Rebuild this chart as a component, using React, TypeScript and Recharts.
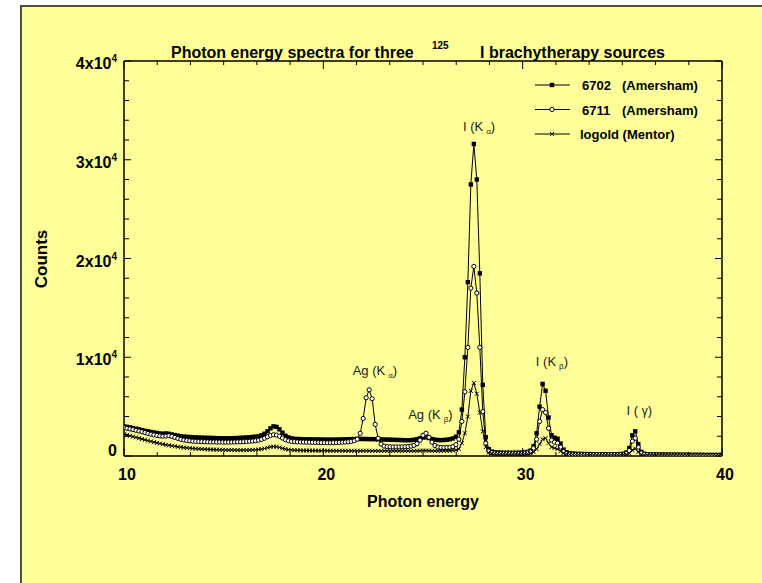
import React from 'react';
import { LineChart, Line, XAxis, YAxis, Legend, ReferenceDot } from 'recharts';

// detector channel energies (keV)
const energy = [
  10, 10.15, 10.3, 10.45, 10.6, 10.75, 10.9, 11.05, 11.2, 11.35, 11.5, 11.65, 11.8, 11.95, 12.1, 12.25, 12.4, 12.55, 12.7, 12.85,
  13, 13.15, 13.3, 13.45, 13.6, 13.75, 13.9, 14.05, 14.2, 14.35, 14.5, 14.65, 14.8, 14.95, 15.1, 15.25, 15.4, 15.55, 15.7, 15.85,
  16, 16.15, 16.3, 16.45, 16.6, 16.75, 16.9, 17.05, 17.2, 17.35, 17.5, 17.65, 17.8, 17.95, 18.1, 18.25, 18.4, 18.55, 18.7, 18.85,
  19, 19.15, 19.3, 19.45, 19.6, 19.75, 19.9, 20.05, 20.2, 20.35, 20.5, 20.65, 20.8, 20.95, 21.1, 21.25, 21.4, 21.55, 21.7, 21.85,
  22, 22.15, 22.3, 22.45, 22.6, 22.75, 22.9, 23.05, 23.2, 23.35, 23.5, 23.65, 23.8, 23.95, 24.1, 24.25, 24.4, 24.55, 24.7, 24.85,
  25, 25.15, 25.3, 25.45, 25.6, 25.75, 25.9, 26.05, 26.2, 26.35, 26.5, 26.65, 26.8, 26.95, 27.1, 27.25, 27.4, 27.55, 27.7, 27.85,
  28, 28.15, 28.3, 28.45, 28.6, 28.75, 28.9, 29.05, 29.2, 29.35, 29.5, 29.65, 29.8, 29.95, 30.1, 30.25, 30.4, 30.55, 30.7, 30.85,
  31, 31.15, 31.3, 31.45, 31.6, 31.75, 31.9, 32.05, 32.2, 32.35, 32.5, 32.65, 32.8, 32.95, 33.1, 33.25, 33.4, 33.55, 33.7, 33.85,
  34, 34.15, 34.3, 34.45, 34.6, 34.75, 34.9, 35.05, 35.2, 35.35, 35.5, 35.65, 35.8, 35.95, 36.1, 36.25, 36.4, 36.55, 36.7, 36.85,
  37, 37.15, 37.3, 37.45, 37.6, 37.75, 37.9, 38.05, 38.2, 38.35, 38.5, 38.65, 38.8, 38.95, 39.1, 39.25, 39.4, 39.55, 39.7, 39.85,
  40,
];

const counts6702 = [
  3000, 2950, 2900, 2830, 2760, 2700, 2620, 2550, 2500, 2430, 2380, 2330, 2280, 2250, 2280, 2250, 2180, 2120, 2060, 2000,
  1960, 1940, 1920, 1900, 1890, 1870, 1860, 1850, 1840, 1830, 1820, 1810, 1800, 1800, 1800, 1790, 1800, 1810, 1820, 1840,
  1860, 1880, 1900, 1930, 1960, 2000, 2100, 2250, 2500, 2800, 3000, 2950, 2700, 2350, 2050, 1880, 1780, 1740, 1720, 1710,
  1700, 1690, 1690, 1680, 1680, 1670, 1670, 1660, 1660, 1650, 1660, 1660, 1670, 1680, 1690, 1700, 1710, 1720, 1730, 1730,
  1720, 1720, 1710, 1710, 1700, 1690, 1680, 1670, 1660, 1650, 1640, 1630, 1620, 1610, 1600, 1600, 1610, 1640, 1700, 1800,
  1880, 1900, 1820, 1720, 1650, 1620, 1610, 1620, 1650, 1700, 1780, 1950, 2400, 4700, 10000, 17600, 27500, 31600, 28000, 18500,
  7200, 1900, 700, 450, 380, 350, 340, 330, 330, 320, 320, 320, 330, 340, 360, 420, 550, 1000, 2300, 5000,
  7300, 6600, 3900, 2100, 1850, 1750, 1250, 650, 380, 280, 240, 220, 210, 200, 200, 190, 190, 180, 180, 180,
  170, 170, 170, 170, 170, 180, 190, 220, 350, 800, 2100, 2500, 1200, 420, 220, 170, 160, 150, 150, 140,
  140, 140, 130, 130, 130, 130, 120, 120, 120, 120, 110, 110, 110, 110, 100, 100, 100, 100, 100, 100,
  100,
];

const counts6711 = [
  2850, 2800, 2740, 2670, 2600, 2530, 2450, 2370, 2290, 2210, 2140, 2080, 2030, 2000, 2020, 2050, 1980, 1880, 1780, 1690,
  1620, 1570, 1530, 1500, 1480, 1460, 1450, 1440, 1430, 1420, 1420, 1410, 1410, 1400, 1400, 1400, 1410, 1420, 1430, 1440,
  1450, 1470, 1490, 1520, 1550, 1600, 1680, 1800, 1950, 2080, 2150, 2120, 2000, 1820, 1650, 1540, 1480, 1450, 1430, 1420,
  1410, 1400, 1390, 1380, 1370, 1360, 1350, 1350, 1340, 1340, 1350, 1360, 1370, 1390, 1410, 1440, 1480, 1550, 1700, 2300,
  3800, 5900, 6700, 5800, 3200, 1800, 1200, 1000, 950, 930, 920, 920, 920, 930, 940, 960, 1000, 1080, 1250, 1600,
  2100, 2300, 1900, 1400, 1050, 900, 860, 850, 860, 880, 950, 1150, 1700, 3500, 6500, 11000, 17000, 19200, 16500, 11000,
  4500, 1300, 500, 350, 300, 280, 270, 260, 260, 260, 260, 260, 270, 280, 300, 340, 420, 800, 1700, 3500,
  4700, 4400, 2800, 1600, 1400, 1300, 900, 450, 260, 200, 180, 170, 160, 160, 150, 150, 150, 140, 140, 140,
  140, 130, 130, 130, 130, 140, 150, 170, 280, 550, 1500, 1800, 900, 300, 170, 130, 120, 110, 110, 100,
  100, 100, 95, 95, 90, 90, 90, 85, 85, 85, 80, 80, 80, 80, 75, 75, 75, 70, 70, 70,
  70,
];

const countsIogold = [
  2200, 2130, 2050, 1960, 1880, 1800, 1720, 1640, 1560, 1480, 1400, 1330, 1260, 1190, 1130, 1080, 1030, 980, 930, 890,
  850, 820, 790, 760, 740, 720, 700, 680, 670, 660, 650, 640, 630, 620, 610, 600, 600, 590, 590, 590,
  590, 590, 600, 610, 630, 660, 700, 760, 840, 920, 960, 940, 870, 780, 700, 640, 610, 590, 580, 570,
  560, 560, 550, 550, 550, 540, 540, 540, 540, 530, 530, 530, 530, 530, 530, 530, 530, 530, 530, 530,
  530, 530, 530, 520, 520, 520, 520, 520, 520, 520, 520, 520, 520, 520, 520, 520, 520, 520, 530, 540,
  550, 550, 540, 530, 520, 520, 520, 520, 530, 540, 560, 600, 700, 1300, 2300, 4000, 6600, 7400, 6300, 4400,
  2500, 900, 350, 260, 230, 220, 210, 200, 200, 200, 200, 200, 200, 210, 220, 240, 280, 400, 700, 1200,
  1700, 1800, 1300, 900, 800, 700, 500, 300, 200, 160, 140, 130, 120, 120, 110, 110, 110, 100, 100, 100,
  100, 100, 100, 100, 100, 100, 110, 120, 170, 250, 600, 750, 400, 150, 100, 90, 80, 80, 80, 70,
  70, 70, 65, 65, 65, 60, 60, 60, 60, 55, 55, 55, 55, 55, 50, 50, 50, 50, 50, 50,
  50,
];

const sourceModels = ['6702', '6711', 'Iogold'];
const sourceMakers = ['(Amersham)', '(Amersham)', '(Mentor)'];

const xTicks = [10, 11.667, 13.333, 15, 16.667, 18.333, 20, 21.667, 23.333, 25, 26.667, 28.333, 30, 31.667, 33.333, 35, 36.667, 38.333, 40];
const xLabels = [10, 20, 30, 40];
const yTicks = [0, 2000, 4000, 6000, 8000, 10000, 12000, 14000, 16000, 18000, 20000, 22000, 24000, 26000, 28000, 30000, 32000, 34000, 36000, 38000, 40000];
const yLabels = [0, 10000, 20000, 30000, 40000];

const peakNotes = [
  { text: 'I (K', sym: 'α', energy: 27.81, counts: 32900, sub: true },
  { text: 'Ag (K', sym: 'α', energy: 22.59, counts: 8200, sub: true },
  { text: 'Ag (K', sym: 'β', energy: 25.37, counts: 3750, sub: true },
  { text: 'I (K', sym: 'β', energy: 31.47, counts: 9110, sub: true },
  { text: 'I ( ', sym: 'γ', energy: 35.85, counts: 4150, sub: false },
];

const data = energy.map((e, i) => ({
  energy: e,
  s6702: counts6702[i],
  s6711: counts6711[i],
  iogold: countsIogold[i],
}));

const FONT = '"Liberation Sans", Arial, sans-serif';
const CHART_W = 762;
const CHART_H = 583;
const MARGIN = { top: 61, right: 30, bottom: 97, left: 64 };
const PLOT_H = CHART_H - MARGIN.top - MARGIN.bottom - 30;

const Square = ({ cx, cy }: { cx: number; cy: number }) => (
  <rect x={cx - 2.2} y={cy - 2.2} width={4.4} height={4.4} fill="#000" />
);
const Ring = ({ cx, cy }: { cx: number; cy: number }) => (
  <circle cx={cx} cy={cy} r={2.1} fill="#fff" stroke="#000" strokeWidth={1} />
);
const Cross = ({ cx, cy }: { cx: number; cy: number }) => (
  <path d={`M${cx - 2} ${cy - 2}L${cx + 2} ${cy + 2}M${cx - 2} ${cy + 2}L${cx + 2} ${cy - 2}`} stroke="#000" strokeWidth={1} />
);
const markers = [Square, Ring, Cross];

const dotFn = (Marker: any, tag: string) => (p: any) =>
  p.cx == null ? <g key={`${tag}-${p.index}`} /> : <Marker key={`${tag}-${p.index}`} cx={p.cx} cy={p.cy} />;

// bottom ticks also draw the matching inward ticks on the top frame edge
const BottomTick = (p: any) => {
  const major = xLabels.includes(p.payload.value);
  const len = major ? 8 : 4;
  const top = p.y - PLOT_H;
  return (
    <g>
      <line x1={p.x} x2={p.x} y1={p.y} y2={p.y - len} stroke="#000" />
      <line x1={p.x} x2={p.x} y1={top} y2={top + len} stroke="#000" />
      {major && (
        <text x={p.x + 3} y={p.y + 24} textAnchor="middle" fontSize={16} fontWeight="bold" fontFamily={FONT} fill="#000">
          {p.payload.value}
        </text>
      )}
    </g>
  );
};

const LeftTick = (p: any) => {
  const v = p.payload.value;
  const major = yLabels.includes(v);
  return (
    <g>
      <line x1={p.x} x2={p.x + (major ? 7 : 5)} y1={p.y} y2={p.y} stroke="#000" />
      {major && v === 0 && (
        <text x={p.x - 7} y={p.y} textAnchor="end" fontSize={16} fontWeight="bold" fontFamily={FONT} fill="#000">0</text>
      )}
      {major && v !== 0 && (
        <text x={p.x - 7} y={p.y + 8} textAnchor="end" fontSize={16} fontWeight="bold" fontFamily={FONT} fill="#000">
          {v / 10000}x10<tspan dy={-7} fontSize={10}>4</tspan>
        </text>
      )}
    </g>
  );
};

const RightTick = (p: any) => {
  const major = yLabels.includes(p.payload.value);
  return <line x1={p.x} x2={p.x - (major ? 7 : 5)} y1={p.y} y2={p.y} stroke="#000" />;
};

const NoteShape = (note: typeof peakNotes[number]) => (p: any) => (
  <text x={p.cx} y={p.cy} textAnchor="middle" fontSize={13} fontFamily={FONT} fill="#222">
    {note.text}
    {note.sub ? (
      <>
        <tspan dx={3} dy={3} fontSize={8}>{note.sym}</tspan>
        <tspan dy={-3}>)</tspan>
      </>
    ) : (
      <>
        <tspan fontSize={12}>{note.sym}</tspan>
        <tspan>)</tspan>
      </>
    )}
  </text>
);

const LegendBox = () => (
  <svg width={180} height={72} style={{ overflow: 'visible' }}>
    {sourceModels.map((model, i) => {
      const Marker = markers[i];
      const y = 10 + i * 24.5;
      return (
        <g key={model}>
          <line x1={5} x2={40} y1={y} y2={y} stroke="#000" />
          <Marker cx={22} cy={y} />
          {i < 2 ? (
            <>
              <text x={52} y={y + 5} fontSize={13} fontWeight="bold" fontFamily={FONT}>{model}</text>
              <text x={92} y={y + 5} fontSize={13} fontWeight="bold" fontFamily={FONT}>{sourceMakers[i]}</text>
            </>
          ) : (
            <text x={50} y={y + 5} fontSize={13} fontWeight="bold" fontFamily={FONT}>{`${model} ${sourceMakers[i]}`}</text>
          )}
        </g>
      );
    })}
  </svg>
);

export default function App() {
  return (
    <div style={{ position: 'absolute', left: 0, top: 0, width: CHART_W, height: CHART_H, background: '#fff', overflow: 'hidden' }}>
      <div
        style={{
          position: 'absolute',
          left: 20,
          top: 5,
          right: 0,
          bottom: 0,
          background: '#ffff99',
          borderTop: '2px solid #4d4d4d',
          borderLeft: '2px solid #4d4d4d',
        }}
      />
      <div style={{ position: 'absolute', left: 0, top: 0 }}>
        <LineChart width={CHART_W} height={CHART_H} data={data} margin={MARGIN}>
          <XAxis
            dataKey="energy"
            type="number"
            domain={[10, 40]}
            allowDataOverflow
            ticks={xTicks}
            interval={0}
            tickSize={0}
            tickMargin={0}
            tick={BottomTick}
            height={30}
            axisLine={{ stroke: '#000', strokeWidth: 1.5 }}
          />
          <YAxis
            type="number"
            domain={[0, 40000]}
            allowDataOverflow
            ticks={yTicks}
            interval={0}
            tickSize={0}
            tickMargin={0}
            tick={LeftTick}
            width={60}
            axisLine={{ stroke: '#000', strokeWidth: 1.5 }}
          />
          <YAxis
            yAxisId="right"
            orientation="right"
            type="number"
            domain={[0, 40000]}
            allowDataOverflow
            ticks={yTicks}
            interval={0}
            tickSize={0}
            tickMargin={0}
            tick={RightTick}
            width={10}
            axisLine={{ stroke: '#000', strokeWidth: 1.5 }}
          />
          <Legend
            layout="horizontal"
            verticalAlign="middle"
            align="center"
            content={() => <LegendBox />}
            wrapperStyle={{ left: 530, top: 75, width: 180, height: 72 }}
          />
          <Line type="linear" dataKey="s6702" name="6702 (Amersham)" stroke="#000" strokeWidth={1} dot={dotFn(Square, 'a')} activeDot={false} isAnimationActive={false} />
          <Line type="linear" dataKey="s6711" name="6711 (Amersham)" stroke="#000" strokeWidth={1} dot={dotFn(Ring, 'b')} activeDot={false} isAnimationActive={false} />
          <Line type="linear" dataKey="iogold" name="Iogold (Mentor)" stroke="#000" strokeWidth={1} dot={dotFn(Cross, 'c')} activeDot={false} isAnimationActive={false} />
          {peakNotes.map((n, i) => (
            <ReferenceDot key={i} x={n.energy} y={n.counts} r={0} ifOverflow="visible" shape={NoteShape(n)} />
          ))}
        </LineChart>
      </div>
      <svg width={CHART_W} height={CHART_H} style={{ position: 'absolute', left: 0, top: 0, pointerEvents: 'none' }}>
        <line x1={124} x2={722} y1={61} y2={61} stroke="#000" strokeWidth={1.5} />
        <text x={171} y={57.5} fontSize={16} fontWeight="bold" fontFamily={FONT}>Photon energy spectra for three</text>
        <text x={432} y={48.5} fontSize={10} fontWeight="bold" fontFamily={FONT}>125</text>
        <text x={480} y={57.5} fontSize={16} fontWeight="bold" fontFamily={FONT}>I brachytherapy sources</text>
        <text x={41} y={259} transform="rotate(-90 41 259)" textAnchor="middle" dominantBaseline="central" fontSize={17} fontWeight="bold" fontFamily={FONT}>Counts</text>
        <text x={423} y={506.5} textAnchor="middle" fontSize={16} fontWeight="bold" fontFamily={FONT}>Photon energy</text>
      </svg>
    </div>
  );
}
